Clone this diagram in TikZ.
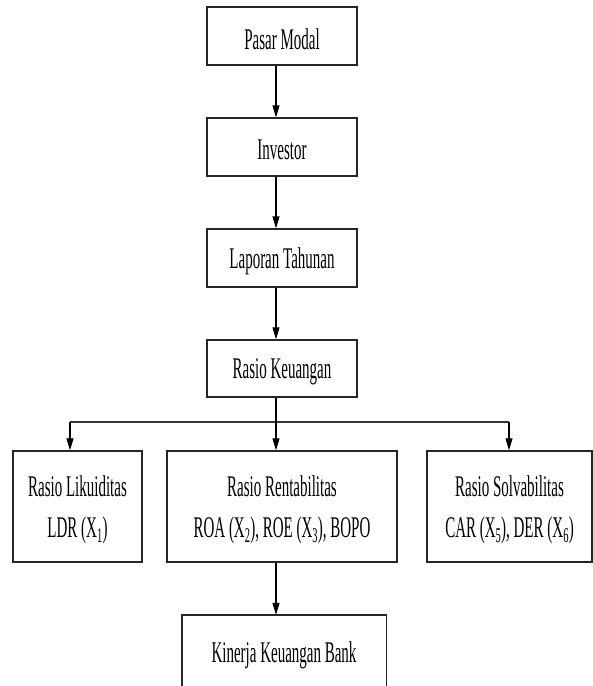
\documentclass[tikz,border=0pt]{standalone}
\usepackage{fontspec}
\setmainfont{Liberation Serif}
\usetikzlibrary{arrows.meta,fit}
\newcommand\sq[1]{\scalebox{0.5}[1]{#1}}
\begin{document}
\begin{tikzpicture}[x=1pt,y=-1pt,
  box/.style={draw=black!85,line width=1.4pt,inner sep=0pt},
  txt/.style={inner sep=0pt,align=center,font=\fontsize{30}{41}\selectfont,yshift=-3pt},
  arr/.style={draw=black,line width=1.1pt,-{Triangle[width=7pt,length=12pt]}},
  bar/.style={draw=black!80,line width=2.6pt}]
\useasboundingbox (0,0) rectangle (593,686);
\node[box,fit={(207,7) (357,65)}] (pm) {};
\node[box,fit={(207,118) (357,176)}] (inv) {};
\node[box,fit={(207,229) (357,287)}] (lt) {};
\node[box,fit={(207,340) (357,397)}] (rk) {};
\node[box,fit={(13,451) (142,562)}] (lk) {};
\node[box,fit={(167,451) (397,562)}] (rr) {};
\node[box,fit={(427,451) (592,562)}] (sv) {};
\node[inner sep=0pt,fit={(182,615) (386,689)}] (kb) {};
\node[txt] (tpm) at (pm.center) {\sq{Pasar Modal}};
\node[txt] (tinv) at (inv.center) {\sq{Investor}};
\node[txt] (tlt) at (lt.center) {\sq{Laporan Tahunan}};
\node[txt] (trk) at (rk.center) {\sq{Rasio Keuangan}};
\node[txt] (tlk) at (lk.center) {\sq{Rasio Likuiditas}\\\sq{LDR (X\textsubscript{1})}};
\node[txt] (trr) at (rr.center) {\sq{Rasio Rentabilitas}\\\sq{ROA (X\textsubscript{2}), ROE (X\textsubscript{3}), BOPO}};
\node[txt] (tsv) at (sv.center) {\sq{Rasio Solvabilitas}\\\sq{CAR (X\textsubscript{5}), DER (X\textsubscript{6})}};
\node[txt] (tkb) at (kb.center) {\sq{Kinerja Keuangan Bank}};
\draw[draw=black!85,line width=1.4pt] (kb.south west) |- (kb.north east) -- (kb.south east);
\coordinate (j) at (276,422);
\coordinate (hl) at (70,422);
\coordinate (hr) at (509,422);
\draw[arr] (pm.south -| j) -- (inv.north -| j);
\draw[arr] (inv.south -| j) -- (lt.north -| j);
\draw[arr] (lt.south -| j) -- (rk.north -| j);
\draw[bar] (hl) -- (hr);
\draw[arr] (rk.south -| j) -- (rr.north -| j);
\draw[arr] (hl) -- (lk.north -| hl);
\draw[arr] (hr) -- (sv.north -| hr);
\draw[arr] (rr.south -| j) -- (kb.north -| j);
\end{tikzpicture}
\end{document}
